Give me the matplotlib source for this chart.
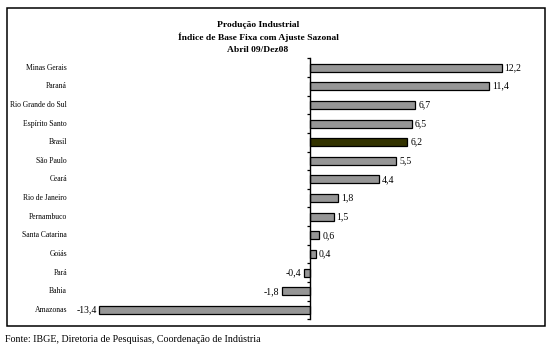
import matplotlib
matplotlib.use("Agg")
import matplotlib.pyplot as plt
from matplotlib.patches import Rectangle
import numpy as np

categories = ["Minas Gerais", "Paraná", "Rio Grande do Sul", "Espírito Santo", "Brasil",
              "São Paulo", "Ceará", "Rio de Janeiro", "Pernambuco", "Santa Catarina",
              "Goiás", "Pará", "Bahia", "Amazonas"]
values = [12.2, 11.4, 6.7, 6.5, 6.2, 5.5, 4.4, 1.8, 1.5, 0.6, 0.4, -0.4, -1.8, -13.4]
highlight = "Brasil"

title_lines = ["Produção Industrial", "Índice de Base Fixa com Ajuste Sazonal", "Abril 09/Dez08"]
source = "Fonte: IBGE, Diretoria de Pesquisas, Coordenação de Indústria"

plt.rcParams['font.family'] = ['Liberation Serif', 'DejaVu Serif']

W, H = 560, 353
fig = plt.figure(figsize=(W / 100, H / 100), dpi=100)
fig.patch.set_facecolor("white")

# axes placement (pixel-derived)
left_px, right_px = 89.9, 514.4
top_px, bot_px = 58.3, 319.3
ax = fig.add_axes([left_px / W, 1 - bot_px / H, (right_px - left_px) / W, (bot_px - top_px) / H])

n = len(categories)
y = np.arange(n)
colors = ["#333300" if c == highlight else "#969696" for c in categories]
ax.barh(y, values, height=0.43, color=colors, edgecolor="black", linewidth=0.9, zorder=3)

ax.set_xlim(-14, 13)
ax.set_ylim(n - 0.5, -0.5)

for s in ["top", "right", "bottom"]:
    ax.spines[s].set_visible(False)
ax.spines["left"].set_position(("data", 0))
ax.spines["left"].set_linewidth(1.0)
ax.spines["left"].set_zorder(4)
ax.set_xticks([])
ax.set_yticks(np.arange(-0.5, n, 1))
ax.set_yticklabels([])
ax.tick_params(axis="y", direction="out", length=2.5, width=0.9)

for yi, v in zip(y, values):
    lab = f"{v:.1f}".replace(".", ",")
    if v >= 0:
        ax.annotate(lab, (v, yi), xytext=(2, 0), textcoords="offset points",
                    ha="left", va="center", fontsize=7)
    else:
        ax.annotate(lab, (v, yi), xytext=(-2, 0), textcoords="offset points",
                    ha="right", va="center", fontsize=7)

lab_x = (67 - left_px) / (right_px - left_px)
for yi, c in zip(y, categories):
    ax.text(lab_x, yi, c, transform=ax.get_yaxis_transform(), ha="right", va="center",
            fontsize=5.5)

# title
tx = 258 / W
for ty, t in zip([24.7, 37.7, 50.0], title_lines):
    fig.text(tx, 1 - ty / H, t, ha="center", va="center", fontsize=6.8, fontweight="bold")

# border
fig.patches.append(Rectangle((7.3 / W, 1 - 325.7 / H), (545 - 7.3) / W, (325.7 - 8) / H,
                             transform=fig.transFigure, fill=False, edgecolor="black",
                             linewidth=1.1))

fig.text(5 / W, 1 - 340 / H, source, ha="left", va="center", fontsize=7.2)

fig.savefig("out.png", dpi=100)
